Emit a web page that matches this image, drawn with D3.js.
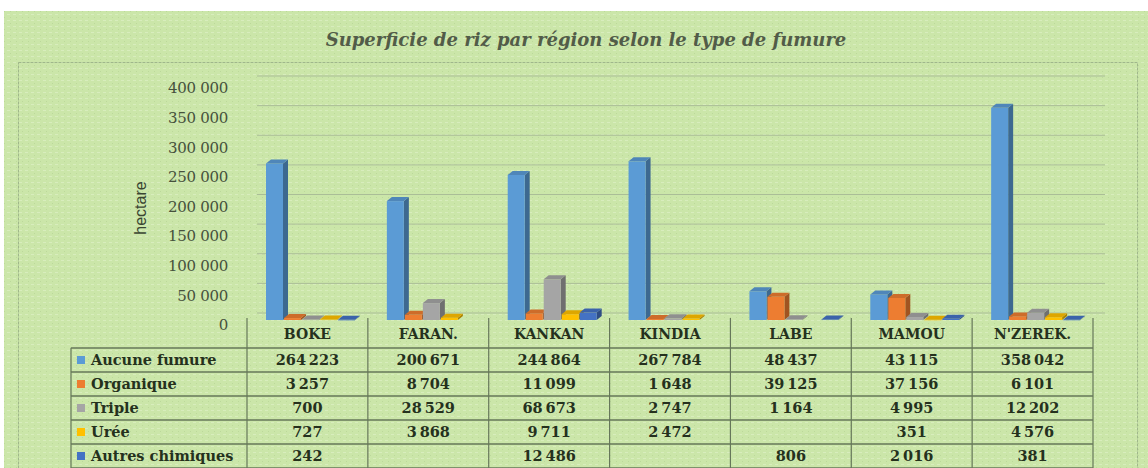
<!DOCTYPE html>
<html>
<head>
<meta charset="utf-8">
<script src="https://cdn.jsdelivr.net/npm/d3@7"></script>
<style>
  body { margin: 0; background: #fff; }
  svg { display: block; }
</style>
</head>
<body>
<div id="chart"></div>
<script>
// Data
const regions = ["BOKE", "FARAN.", "KANKAN", "KINDIA", "LABE", "MAMOU", "N'ZEREK."];
const seriesNames = ["Aucune fumure", "Organique", "Triple", "Urée", "Autres chimiques"];
const aucune = [264223, 200671, 244864, 267784, 48437, 43115, 358042];
const organique = [3257, 8704, 11099, 1648, 39125, 37156, 6101];
const triple = [700, 28529, 68673, 2747, 1164, 4995, 12202];
const uree = [727, 3868, 9711, 2472, null, 351, 4576];
const autres = [242, null, 12486, null, 806, 2016, 381];
const yTicks = [0, 50000, 100000, 150000, 200000, 250000, 300000, 350000, 400000];

const seriesValues = [aucune, organique, triple, uree, autres];
const colors = ["#5b9bd5", "#ed7d31", "#a5a5a5", "#ffc000", "#4472c4"];

const width = 1148;
const height = 468;

const fr = d3.formatLocale({ decimal: ",", thousands: "\u2009", grouping: [3], currency: ["", " €"] });
const fmt = fr.format(",d");
const fmtAxis = (v) => d3.format(",d")(v).replace(/,/g, " ");

const svg = d3.select("#chart").append("svg")
  .attr("width", width)
  .attr("height", height);

// Background with a faint texture
const defs = svg.append("defs");
const pat = defs.append("pattern")
  .attr("id", "tex")
  .attr("width", 6)
  .attr("height", 6)
  .attr("patternUnits", "userSpaceOnUse");
pat.append("rect").attr("width", 6).attr("height", 6).attr("fill", "#cbe6a9");
pat.append("rect").attr("x", 1).attr("y", 2).attr("width", 3).attr("height", 1).attr("fill", "#d8edbd");
pat.append("rect").attr("x", 4).attr("y", 5).attr("width", 1).attr("height", 1).attr("fill", "#bcd99a");

svg.append("rect")
  .attr("x", 4).attr("y", 11)
  .attr("width", width - 4).attr("height", height - 11)
  .attr("fill", "url(#tex)");

svg.append("rect")
  .attr("x", 18.5).attr("y", 62.5)
  .attr("width", 1119).attr("height", 420)
  .attr("fill", "none")
  .attr("stroke", "#9fb78a")
  .attr("stroke-dasharray", "3,1");

// Title
svg.append("text")
  .attr("x", 586).attr("y", 46)
  .attr("text-anchor", "middle")
  .style("font-family", "'DejaVu Serif', serif")
  .style("font-style", "italic")
  .style("font-weight", "bold")
  .style("font-size", "18px")
  .attr("fill", "#525c48")
  .text("Superficie de riz par région selon le type de fumure");

// Scales
const x = d3.scaleBand().domain(regions).range([247, 1093]);
const xs = d3.scaleBand().domain(seriesNames).range([19, 109]);
const y = d3.scaleLinear().domain([0, 400000]).range([325, 88]);

const depthX = 10;
const depthY = 12;

// Back wall gridlines
svg.append("g")
  .selectAll("line")
  .data(yTicks)
  .join("line")
  .attr("x1", x.range()[0] + depthX)
  .attr("x2", x.range()[1] + depthX + 2)
  .attr("y1", (d) => y(d) - depthY)
  .attr("y2", (d) => y(d) - depthY)
  .attr("stroke", "#aabd97")
  .attr("stroke-width", 1);

// Y axis labels
svg.append("g")
  .selectAll("text")
  .data(yTicks)
  .join("text")
  .attr("x", 228)
  .attr("y", (d) => y(d))
  .attr("dy", "0.35em")
  .attr("text-anchor", "end")
  .style("font-family", "'DejaVu Serif', serif")
  .style("font-size", "15px")
  .style("letter-spacing", "-0.3px")
  .attr("fill", "#46513c")
  .text(fmtAxis);

svg.append("text")
  .attr("transform", "translate(146,208) rotate(-90)")
  .attr("text-anchor", "middle")
  .style("font-family", "'Liberation Sans', sans-serif")
  .style("font-size", "16px")
  .attr("fill", "#3a4532")
  .text("hectare");

// 3D bars
const barW = 17;
const bdx = 5;
const bdy = 4;
const base = y(0) - 5;
const yBar = (v) => y(v) - 5;

const bars = [];
regions.forEach((r, i) => {
  seriesNames.forEach((s, j) => {
    const v = seriesValues[j][i];
    if (v === null) return;
    bars.push({ region: r, series: s, value: v, color: colors[j] });
  });
});

const barG = svg.append("g")
  .selectAll("g")
  .data(bars)
  .join("g")
  .attr("transform", (d) => `translate(${x(d.region) + xs(d.series)},0)`);

barG.append("path")
  .attr("d", (d) => {
    const t = yBar(d.value);
    return `M${barW},${t} L${barW + bdx},${t - bdy} L${barW + bdx},${base - bdy} L${barW},${base} Z`;
  })
  .attr("fill", (d) => d3.color(d.color).darker(1.1));

barG.append("rect")
  .attr("x", 0)
  .attr("y", (d) => yBar(d.value))
  .attr("width", barW)
  .attr("height", (d) => Math.max(0.5, base - yBar(d.value)))
  .attr("fill", (d) => d.color);

barG.append("path")
  .attr("d", (d) => {
    const t = yBar(d.value);
    return `M0,${t} L${bdx},${t - bdy} L${barW + bdx},${t - bdy} L${barW},${t} Z`;
  })
  .attr("fill", (d) => d3.color(d.color).darker(0.4));

// Data table
const headerTop = 318;
const headerBottom = 348;
const rowH = 24;
const tableBottom = headerBottom + rowH * seriesNames.length;
const lineColor = "#66775a";
const table = svg.append("g");

const colEdges = regions.map((r) => x(r)).concat([x.range()[1]]);
table.selectAll("line.v")
  .data(colEdges)
  .join("line")
  .attr("class", "v")
  .attr("x1", (d) => d).attr("x2", (d) => d)
  .attr("y1", headerTop).attr("y2", tableBottom)
  .attr("stroke", lineColor)
  .attr("stroke-width", 1.2);

table.append("line")
  .attr("x1", 71).attr("x2", 71)
  .attr("y1", headerBottom).attr("y2", tableBottom)
  .attr("stroke", lineColor)
  .attr("stroke-width", 1.2);

const rowLines = d3.range(seriesNames.length + 1).map((k) => headerBottom + k * rowH);
table.selectAll("line.h")
  .data(rowLines)
  .join("line")
  .attr("class", "h")
  .attr("x1", 71).attr("x2", x.range()[1])
  .attr("y1", (d) => d).attr("y2", (d) => d)
  .attr("stroke", lineColor)
  .attr("stroke-width", 1.4);

const cellFont = (sel) => sel
  .style("font-family", "'DejaVu Serif', serif")
  .style("font-weight", "bold")
  .style("font-size", "14.5px")
  .attr("fill", "#25311d");

table.selectAll("text.hdr")
  .data(regions)
  .join("text")
  .attr("class", "hdr")
  .attr("x", (d) => x(d) + x.bandwidth() / 2)
  .attr("y", headerBottom - 9)
  .attr("text-anchor", "middle")
  .call(cellFont)
  .style("font-size", "14px")
  .text((d) => d);

seriesNames.forEach((s, j) => {
  const cy = headerBottom + j * rowH + rowH / 2;
  table.append("rect")
    .attr("x", 77).attr("y", cy - 4)
    .attr("width", 8).attr("height", 8)
    .attr("fill", colors[j]);
  table.append("text")
    .attr("x", 91).attr("y", cy)
    .attr("dy", "0.36em")
    .call(cellFont)
    .text(s);
  table.selectAll(null)
    .data(regions)
    .join("text")
    .attr("x", (d) => x(d) + x.bandwidth() / 2)
    .attr("y", cy)
    .attr("dy", "0.36em")
    .attr("text-anchor", "middle")
    .call(cellFont)
    .text((d, i) => (seriesValues[j][i] === null ? "" : fmt(seriesValues[j][i])));
});
</script>
</body>
</html>
